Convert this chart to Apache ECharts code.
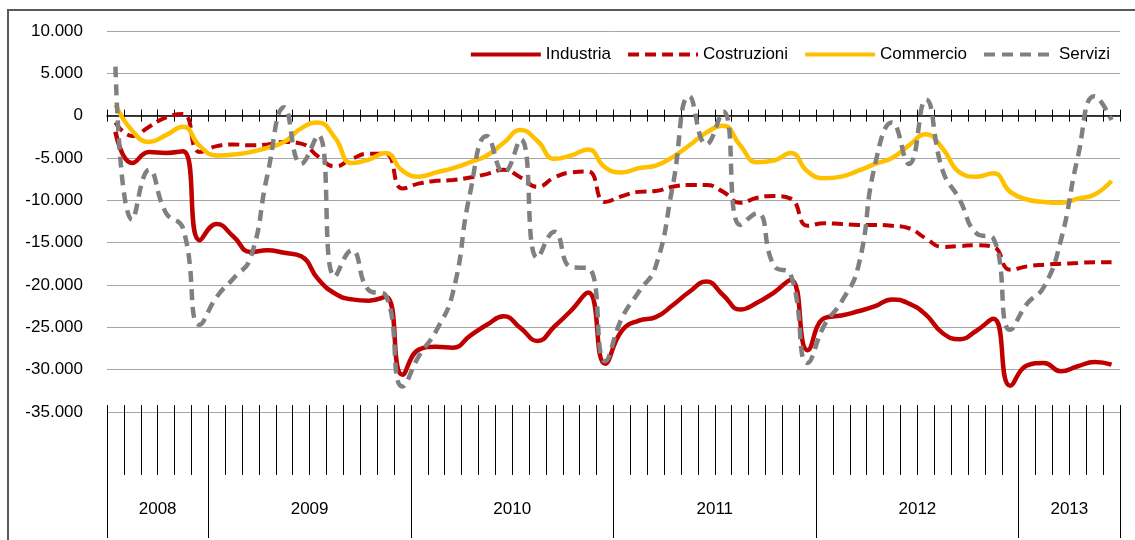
<!DOCTYPE html>
<html>
<head>
<meta charset="utf-8">
<script src="https://cdn.jsdelivr.net/npm/echarts@6/dist/echarts.min.js"></script>
<style>
html,body{margin:0;padding:0;background:#fff;}
#chart{width:1135px;height:540px;}
</style>
</head>
<body>
<div id="chart"></div>
<script>
// ---- data (monthly, Jul 2008 - Jun 2013) ----
const years = ['2008', '2009', '2010', '2011', '2012', '2013'];
const monthsPerYear = [6, 12, 12, 12, 12, 6];
const firstMonth = 7; // July 2008

const seriesNames = ['Industria', 'Costruzioni', 'Commercio', 'Servizi'];

const industria = [-1900,-5600,-4300,-4400,-4200,-14700,-12800,-14300,-16100,-15900,
  -16200,-16600,-19300,-21000,-21700,-21850,-21400,-30600,-27600,-27300,
  -27400,-26000,-24700,-23700,-25100,-26600,-24900,-23000,-20900,-29300,
  -25400,-24200,-23800,-22400,-20800,-19600,-21200,-22900,-22100,-20900,
  -19400,-27700,-23900,-23600,-23100,-22500,-21700,-22200,-23500,-25700,
  -26400,-25400,-24000,-31900,-29500,-29200,-30200,-29600,-29100,-29400];

const costruzioni = [-800,-2400,-1300,-200,200,-4300,-3600,-3400,-3500,-3400,
  -3100,-3300,-4800,-6000,-5100,-4500,-4500,-8600,-8000,-7700,
  -7600,-7300,-6900,-6400,-7300,-8400,-7300,-6700,-6600,-10200,
  -9500,-9000,-8900,-8400,-8200,-8200,-9000,-10300,-9700,-9500,
  -9800,-13000,-12700,-12800,-12900,-12900,-13000,-13300,-14500,-15500,
  -15400,-15300,-15500,-18200,-17800,-17600,-17500,-17400,-17300,-17300];

const commercio = [1300,-1800,-3100,-2300,-1300,-3600,-4700,-4600,-4300,-3800,
  -3100,-1500,-800,-2600,-5600,-5200,-4400,-6500,-7200,-6700,
  -6200,-5500,-4700,-3200,-1700,-3000,-5100,-4700,-4000,-6100,
  -6700,-6200,-5900,-4900,-3500,-2000,-1200,-3500,-5500,-5300,
  -4400,-6600,-7400,-7200,-6500,-5700,-5000,-3500,-2200,-3900,
  -6700,-7200,-6800,-9000,-9900,-10200,-10300,-9800,-9300,-7700];

const servizi = [5800,-12300,-6400,-11500,-13300,-24700,-21400,-19200,-16800,-7000,
  1000,-5700,-2300,-19000,-15900,-20600,-21200,-32000,-28300,-25400,
  -20800,-9200,-2400,-6700,-2800,-16800,-13700,-17900,-18000,-29000,
  -23900,-20800,-17800,-8400,2300,-3400,500,-12900,-11500,-17700,
  -18800,-29200,-24700,-22000,-17800,-5700,-800,-5700,1900,-6500,
  -9900,-13900,-14500,-25300,-22200,-20200,-14700,-4900,2300,-500];

const yMin = -35000, yMax = 10000, yStep = 5000;

// ---- derived category labels ----
const months = [];
(function () {
  let m = firstMonth;
  for (let yi = 0; yi < years.length; yi++) {
    for (let k = 0; k < monthsPerYear[yi]; k++) {
      months.push(years[yi] + '-' + String(m).padStart(2, '0'));
      m++; if (m > 12) m = 1;
    }
  }
})();
const nMonths = months.length;
const yearCenters = {};
(function () {
  let acc = 0;
  years.forEach((yr, i) => {
    yearCenters[acc + monthsPerYear[i] / 2] = yr;
    acc += monthsPerYear[i];
  });
})();

function fmtIt(v) {
  const s = Math.abs(v).toString().replace(/\B(?=(\d{3})+(?!\d))/g, '.');
  return (v < 0 ? '-' : '') + s;
}

const FONT = '"Liberation Sans", Arial, sans-serif';
const chart = echarts.init(document.getElementById('chart'), null, { renderer: 'canvas' });

const catBase = {
  type: 'category', data: months, boundaryGap: true, gridIndex: 0,
  position: 'bottom', axisLabel: { show: false, interval: 0 }, splitLine: { show: false }
};

chart.setOption({
  animation: false,
  backgroundColor: '#fff',
  graphic: [{
    type: 'rect', z: -10, silent: true,
    shape: { x: 8, y: 10, width: 1140, height: 560 },
    style: { fill: 'none', stroke: '#595959', lineWidth: 2 }
  }],
  grid: { left: 107, right: 15, top: 31, bottom: 128, containLabel: false },
  legend: {
    data: seriesNames,
    right: 25, top: 46,
    itemWidth: 70, itemHeight: 14, itemGap: 15,
    padding: 0,
    itemStyle: { opacity: 0 },
    lineStyle: { width: 4 },
    textStyle: { fontFamily: FONT, fontSize: 17, color: '#000' }
  },
  xAxis: [
    Object.assign({}, catBase, {
      axisLine: { show: true, onZero: true, lineStyle: { color: '#000', width: 1.5 } },
      axisTick: { show: true, interval: 0, inside: false, length: 6, lineStyle: { color: '#000', width: 1 } }
    }),
    Object.assign({}, catBase, {
      axisLine: { show: false, onZero: true, onZeroAxisIndex: 0 },
      axisTick: { show: true, interval: 0, inside: true, length: 6, lineStyle: { color: '#000', width: 1 } }
    }),
    Object.assign({}, catBase, {
      offset: -7,
      axisLine: { show: false, onZero: false },
      axisTick: { show: true, interval: 0, length: 70, lineStyle: { color: '#000', width: 1 } }
    }),
    Object.assign({}, catBase, {
      offset: -7,
      axisLine: { show: false, onZero: false },
      axisTick: {
        show: true, length: 133, lineStyle: { color: '#000', width: 1 },
        interval: function (idx, val) { return idx === 0 || val.slice(5) === '01'; }
      }
    }),
    {
      type: 'value', gridIndex: 0, position: 'bottom', min: 0, max: nMonths, interval: 1,
      axisLine: { show: false, onZero: false }, axisTick: { show: false }, splitLine: { show: false },
      axisLabel: {
        show: true, margin: 89, fontFamily: FONT, fontSize: 17, color: '#000',
        showMinLabel: true, showMaxLabel: true,
        formatter: function (v) { return yearCenters[v] || ''; }
      }
    }
  ],
  yAxis: {
    type: 'value', min: yMin, max: yMax, interval: yStep,
    axisLine: { show: false }, axisTick: { show: false },
    splitLine: { show: true, lineStyle: { color: '#a6a6a6', width: 1 } },
    axisLabel: { margin: 24, fontFamily: FONT, fontSize: 17, color: '#000', formatter: fmtIt }
  },
  series: [
    { name: 'Industria', type: 'line', xAxisIndex: 0, data: industria, smooth: 0.5, symbol: 'none',
      lineStyle: { color: '#C00000', width: 4.5 }, itemStyle: { color: '#C00000' } },
    { name: 'Costruzioni', type: 'line', xAxisIndex: 0, data: costruzioni, smooth: 0.5, symbol: 'none',
      lineStyle: { color: '#C00000', width: 4, type: [11, 6] }, itemStyle: { color: '#C00000' } },
    { name: 'Commercio', type: 'line', xAxisIndex: 0, data: commercio, smooth: 0.5, symbol: 'none',
      lineStyle: { color: '#FFC000', width: 4.5 }, itemStyle: { color: '#FFC000' } },
    { name: 'Servizi', type: 'line', xAxisIndex: 0, data: servizi, smooth: 0.5, symbol: 'none',
      lineStyle: { color: '#808080', width: 4.5, type: [11, 7] }, itemStyle: { color: '#808080' } }
  ]
});
</script>
</body>
</html>
